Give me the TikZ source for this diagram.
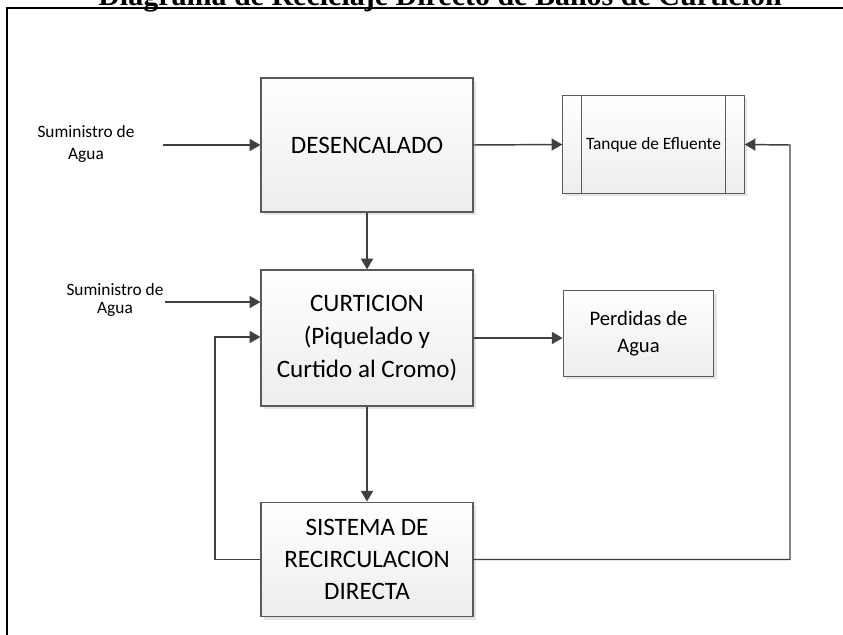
\documentclass[tikz,border=0pt]{standalone}
\usepackage{fontspec}
\setmainfont{Carlito}
\newfontfamily\titlefont{Liberation Serif}
\usetikzlibrary{arrows.meta,shadows}

\definecolor{gris}{HTML}{404040}
\definecolor{borde}{HTML}{5A5A5A}

\tikzset{
  caja/.style={draw=borde, line width=0.9pt, top color=white, bottom color=gray!14,
    align=center, inner sep=0pt,
    drop shadow={shadow xshift=2pt, shadow yshift=-2pt, fill=gray!20, opacity=1}},
  flecha/.style={draw=gris, line width=1.1pt, -{Triangle[length=8pt,width=9pt]}},
  etiqueta/.style={align=center, inner sep=0pt}
}

\begin{document}
\begin{tikzpicture}[x=0.75pt,y=-0.75pt]
    \useasboundingbox (0,0) rectangle (843,635);

    % Marco y titulo
    \draw[line width=1.6pt] (7,8) rectangle (860,660);
    \node (titulo) at (440,6) [anchor=base, font=\titlefont\bfseries\fontsize{22.5}{27}\selectfont]
      {Diagrama de Reciclaje Directo de Baños de Curtición};

    % Procesos
    \node[caja, minimum width=159pt, minimum height=100.5pt, font=\fontsize{18.8}{25}\selectfont] (des) at (367,145)
      {DESENCALADO};
    \node[caja, minimum width=159pt, minimum height=102pt, font=\fontsize{18.8}{25}\selectfont] (cur) at (367,338)
      {CURTICION\\(Piquelado y\\Curtido al Cromo)};
    \node[caja, minimum width=159pt, minimum height=86pt, font=\fontsize{18.8}{24}\selectfont] (sis) at (367,559.5)
      {SISTEMA DE\\RECIRCULACION\\DIRECTA};
    \node[caja, minimum width=113pt, minimum height=64pt, font=\fontsize{15.5}{20}\selectfont] (perd) at (638.5,333.5)
      {Perdidas de\\Agua};

    % Proceso predefinido
    \node[caja, minimum width=136pt, minimum height=73pt, font=\fontsize{13}{16}\selectfont] (proc) at (653.5,144.5)
      {Tanque de Efluente};
    \draw[borde, line width=0.9pt] ([xshift=14.25pt]proc.north west) -- ([xshift=14.25pt]proc.south west);
    \draw[borde, line width=0.9pt] ([xshift=-14.25pt]proc.north east) -- ([xshift=-14.25pt]proc.south east);

    % Entradas
    \node[etiqueta, font=\fontsize{13}{16.5}\selectfont] (sum1) at (86,144) {Suministro de\\Agua};
    \node[etiqueta, font=\fontsize{13}{13}\selectfont] (sum2) at (115,300) {Suministro de\\Agua};
    \coordinate (in1) at (163,145);
    \coordinate (in2) at (165,302);
    \draw[flecha] (in1) -- (des.west);
    \draw[flecha] (in2) -- (in2 -| cur.west);

    % Flujo principal
    \draw[flecha] (des.east) -- (proc.west);
    \draw[flecha] (des.south) -- (cur.north);
    \draw[flecha] (cur.east) -- (cur.east -| perd.west);
    \draw[flecha] (cur.south) -- (sis.north);

    % Recirculacion
    \coordinate (retIzq) at (215,337);
    \coordinate (retDer) at (790,145);
    \draw[flecha] (sis.west) -| (retIzq) -- (retIzq -| cur.west);
    \draw[flecha] (sis.east) -| (retDer) -- (proc.east);
\end{tikzpicture}
\end{document}
